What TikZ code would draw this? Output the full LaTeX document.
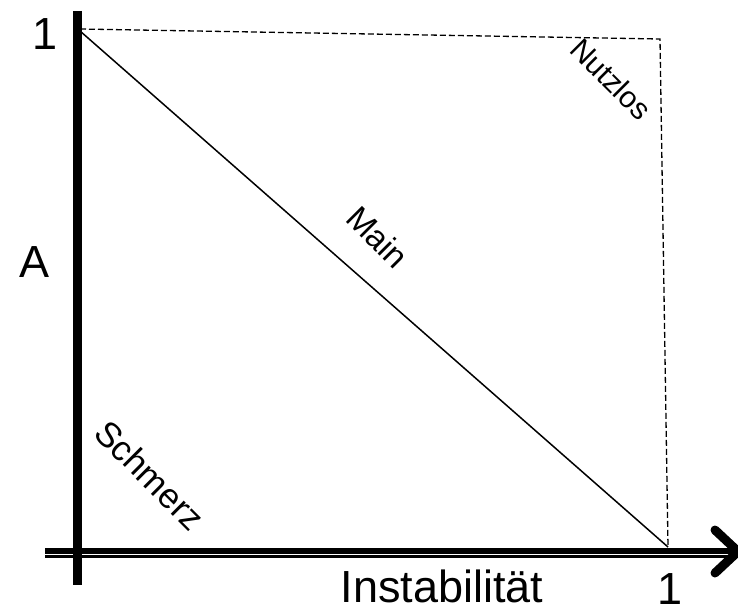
\documentclass[tikz,border=0pt]{standalone}
\usepackage{fontspec}
\setmainfont{Liberation Sans}
\usetikzlibrary{arrows.meta,positioning}

\begin{document}
\begin{tikzpicture}[
  x=1pt, y=-1pt,
  axis/.style={line width=9pt, black},
  guide/.style={dash pattern=on 6pt off 3pt, line width=1.3pt},
  main/.style={line width=1.5pt},
  big/.style={font=\fontsize{45}{45}\selectfont, inner sep=0pt},
  zone/.style={font=\fontsize{33}{33}\selectfont, inner sep=0pt, rotate=-45}
]
\useasboundingbox (0,0) rectangle (738,610);

% axis points
\coordinate (xstart) at (45,552.5);
\coordinate (xend) at (735,552.5);
\coordinate (ytop) at (77,11);
\coordinate (ybot) at (77,585);
\coordinate (tl) at (80,31);
\coordinate (tr) at (660,39);
\coordinate (br) at (668,547);
\coordinate (tip) at (738,551.5);
\coordinate (tipa) at (715,530);
\coordinate (tipb) at (715,573);

% horizontal axis (double)
\draw[line width=10pt] (xstart) -- (xend);
\draw[white, line width=1.6pt] ([yshift=-2pt]xstart) -- ([yshift=-2pt]xend);
\draw[line width=9pt, line cap=round, line join=miter] (tipa) -- (tip) -- (tipb);

% vertical axis
\draw[axis] (ytop) -- (ybot);

% main sequence and guide
\draw[main] (tl) -- (br);
\draw[guide] ([yshift=2pt]tl) -- (tr) -- (br);

% labels
\node[big, anchor=base] (one-y) at (45.5,50) {1};
\node[big, anchor=base] (lab-a) at (35,277) {A};
\node[big, anchor=base] (lab-x) at (442,602) {Instabilität};
\node[big, anchor=base] (one-x) at (670,604) {1};

\node[zone] (main-lab) at (378,237) {Main};
\node[zone, font=\fontsize{30}{30}\selectfont] (useless) at (611,79) {Nutzlos};
\node[zone, font=\fontsize{35}{35}\selectfont] (pain) at (150,475) {Schmerz};

\end{tikzpicture}
\end{document}
